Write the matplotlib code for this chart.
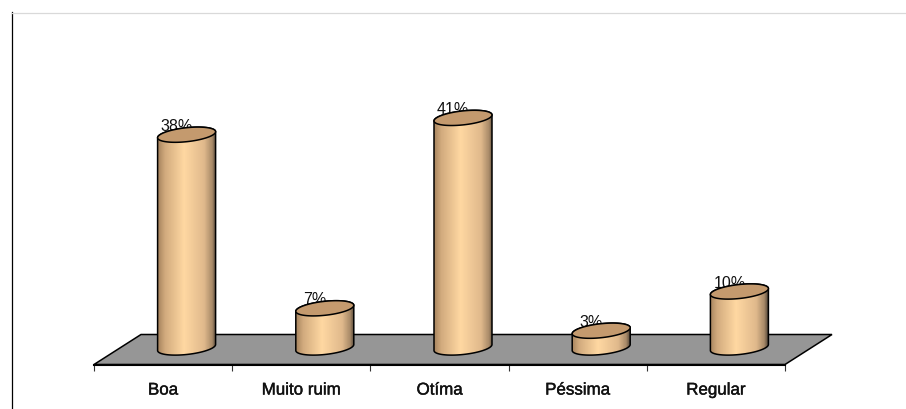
import numpy as np
import matplotlib.pyplot as plt
import matplotlib.patheffects as pe
from matplotlib.colors import LinearSegmentedColormap
from matplotlib.lines import Line2D
from matplotlib.patches import PathPatch, Polygon
from matplotlib.path import Path

plt.rcParams['font.family'] = ['Liberation Sans', 'DejaVu Sans']

# Data
categories = ['Boa', 'Muito ruim', 'Otíma', 'Péssima', 'Regular']
values = [38, 7, 41, 3, 10]
value_labels = ['38%', '7%', '41%', '3%', '10%']

W, H = 906, 410
px_x = 138.2      # pixels per category
px_y = 5.6        # pixels per percent
base_y = 348.5    # pixel row of value 0
ax_left, ax_right = 94, 785
ax_bottom, ax_top = 365.5, 13
shift = 23.5 / px_x   # cylinders stand in the middle of the floor depth

fig = plt.figure(figsize=(W / 100, H / 100), dpi=100, facecolor='white')
ax = fig.add_axes([ax_left / W, 1 - ax_bottom / H,
                   (ax_right - ax_left) / W, (ax_bottom - ax_top) / H])
ax.set_xlim(-0.5, 4.5)
ax.set_ylim((base_y - ax_bottom) / px_y, (base_y - ax_top) / px_y)

# Axes
for s in ['top', 'right', 'left']:
    ax.spines[s].set_visible(False)
ax.spines['bottom'].set_linewidth(1.5)
ax.spines['bottom'].set_zorder(6)
ax.set_yticks([])
ax.set_xticks(np.arange(-0.5, 5, 1))
ax.set_xticklabels([])
ax.tick_params(axis='x', which='major', length=4, width=0.8, color='#333333')
ax.set_xticks(np.arange(5), categories, minor=True)
ax.tick_params(axis='x', which='minor', length=0, pad=13, labelsize=12.2, labelcolor='#111111')
for lab in ax.get_xticklabels(minor=True):
    lab.set_path_effects([pe.withStroke(linewidth=0.3, foreground='#111111')])
ax.patch.set_alpha(0)

# Floor
ymin = ax.get_ylim()[0]
depth_x = 47 / px_x
depth_y = 30 / px_y
floor = Polygon([(-0.5, ymin), (-0.5 + depth_x, ymin + depth_y),
                 (4.5 + depth_x, ymin + depth_y), (4.5, ymin)],
                closed=True, facecolor='#969696', edgecolor='black', lw=1.1,
                clip_on=False, zorder=1)
ax.add_patch(floor)

body_cmap = LinearSegmentedColormap.from_list(
    'body', [(0, '#a8855f'), (0.12, '#d2ab7e'), (0.45, '#ffd8a2'),
             (0.8, '#e0b98c'), (0.94, '#a88a68'), (1, '#5f5040')])


def ellipse(cx, cy, t):
    # slightly tilted ellipse, right end higher
    a = 29.0
    b = 7.0
    tilt = 3.0
    x = cx + a * np.cos(t) / px_x
    y = cy + (tilt * np.cos(t) + b * np.sin(t)) / px_y
    return x, y


for i, v in enumerate(values):
    cx = i + shift
    ax.text(cx - 10 / px_x, v + 2.0 / px_y, value_labels[i], ha='center', va='bottom',
            fontsize=11.5, color='#111111', zorder=2)

    # body: top edge back half is hidden by the lid, so go round lower half
    t_low = np.linspace(np.pi, 2 * np.pi, 60)
    xb, yb = ellipse(cx, 0, t_low)
    t_up = np.linspace(0, np.pi, 60)
    xt, yt = ellipse(cx, v, t_up)
    verts = np.column_stack([np.r_[xb, xt], np.r_[yb, yt]])
    verts = np.vstack([verts, verts[0]])
    path = Path(verts, closed=True)

    hw = 29.0 / px_x
    im = ax.imshow(np.linspace(0, 1, 120).reshape(1, -1), cmap=body_cmap, aspect='auto',
                   extent=(cx - hw, cx + hw, -2, v + 3), zorder=3)
    im.set_clip_path(PathPatch(path, transform=ax.transData))
    ax.add_patch(PathPatch(path, facecolor='none', edgecolor='black', lw=1.1, zorder=4))

    t = np.linspace(0, 2 * np.pi, 120)
    xl, yl = ellipse(cx, v, t)
    ax.add_patch(Polygon(np.column_stack([xl, yl]), closed=True, facecolor='#c49a6e',
                         edgecolor='black', lw=1.1, zorder=5))

ax.set_xlim(-0.5, 4.5)
ax.set_ylim((base_y - ax_bottom) / px_y, (base_y - ax_top) / px_y)

# Frame lines of the picture
fig.add_artist(Line2D([11.5 / W, 11.5 / W], [0, 1 - 13 / H], color='black', lw=0.9))
fig.add_artist(Line2D([11.5 / W, 1], [1 - 13.5 / H, 1 - 13.5 / H], color='#d9d9d9', lw=0.9))

fig.savefig('out.png', dpi=100)
